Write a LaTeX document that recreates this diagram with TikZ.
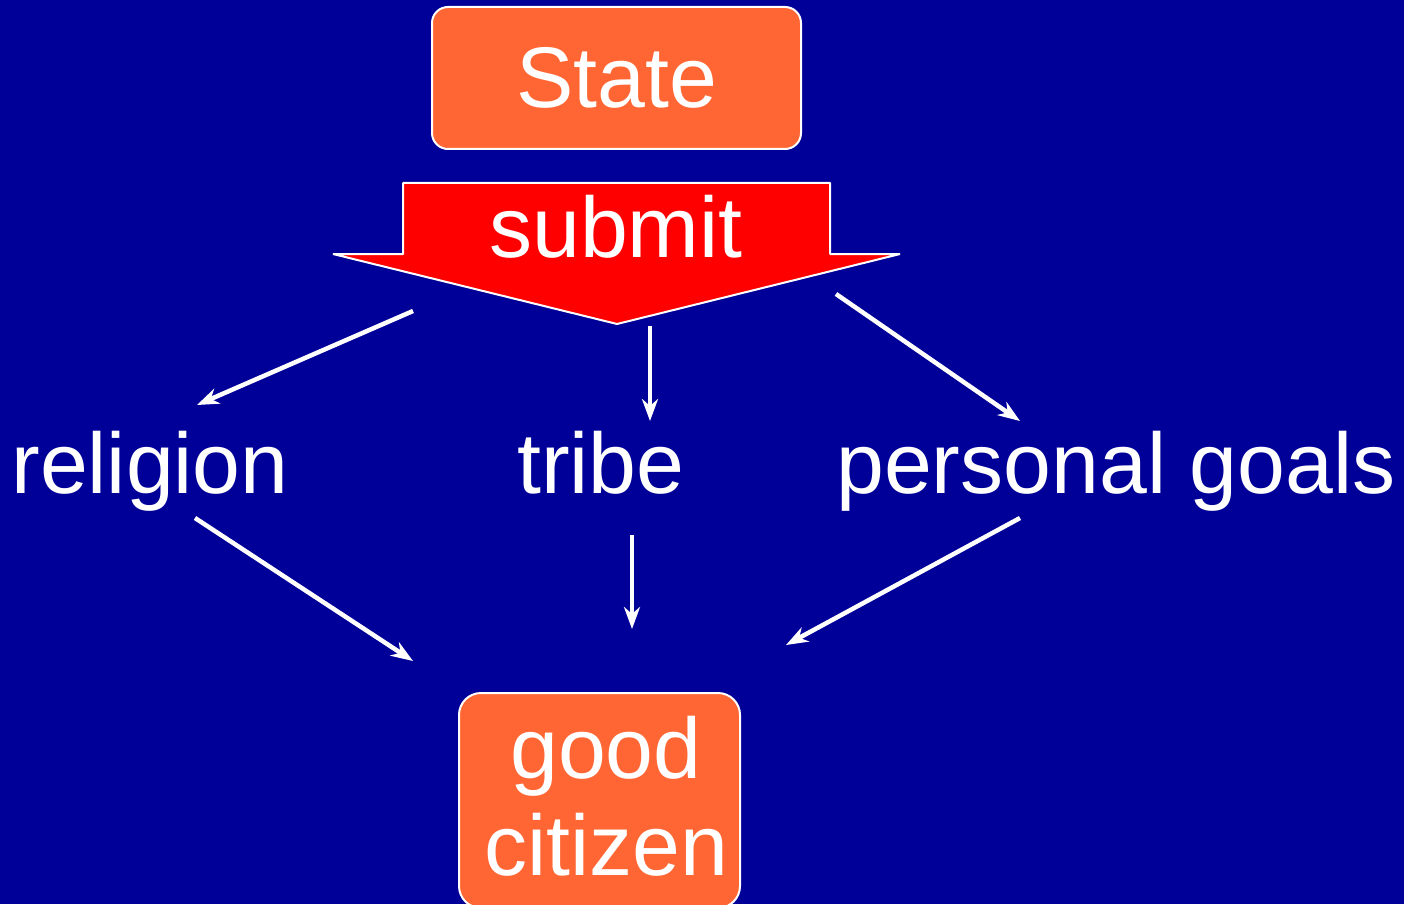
\documentclass[tikz,border=0pt]{standalone}
\usepackage{fontspec}
\setmainfont{Liberation Sans}
\usetikzlibrary{arrows.meta}
\definecolor{bg}{HTML}{000099}
\definecolor{boxorange}{HTML}{FF6633}
\definecolor{submitred}{HTML}{FF0000}
\begin{document}
\begin{tikzpicture}[x=1pt,y=-1pt,
  lbl/.style={text=white,inner sep=0pt,anchor=base,font=\fontsize{86}{97}\selectfont},
  orangebox/.style={fill=boxorange,draw=white,line width=2pt,rounded corners=16pt},
  conn/.style={draw=white,line width=4.5pt,-{Stealth[length=22pt,width=16pt,inset=7pt]}}]
\useasboundingbox (0,0) rectangle (1404,904);
\fill[bg] (0,0) rectangle (1404,904);
% State box
\draw[orangebox] (432,7) rectangle (801,149);
\node[lbl] (state) at (617,108) {State};
% submit arrow
\draw[fill=submitred,draw=white,line width=2pt,line join=bevel]
  (403,183) -- (830,183) -- (830,254) -- (900,254) -- (617,324) -- (333,254) -- (403,254) -- cycle;
\node[lbl] (submit) at (616,257) {submit};
% labels
\node[lbl] (religion) at (150,493) {religion};
\node[lbl] (tribe) at (601,493) {tribe};
\node[lbl] (goals) at (1116,493) {personal goals};
% good citizen box (cut at the bottom)
\begin{scope}
\clip (0,0) rectangle (1404,904);
\draw[orangebox,rounded corners=22pt] (459,693) rectangle (740,908);
\end{scope}
\node[lbl] (good) at (606,778) {good};
\node[lbl] (citizen) at (606,875) {citizen};
% connector end points
\coordinate (a1) at (413,311); \coordinate (b1) at (197,405);
\coordinate (a2) at (650,326); \coordinate (b2) at (650,421);
\coordinate (a3) at (836,294); \coordinate (b3) at (1020,421);
\coordinate (a4) at (195,518); \coordinate (b4) at (413,661);
\coordinate (a5) at (632,535); \coordinate (b5) at (632,629);
\coordinate (a6) at (1020,518); \coordinate (b6) at (786,645);
\draw[conn] (a1) -- (b1);
\draw[conn] (a2) -- (b2);
\draw[conn] (a3) -- (b3);
\draw[conn] (a4) -- (b4);
\draw[conn] (a5) -- (b5);
\draw[conn] (a6) -- (b6);
\end{tikzpicture}
\end{document}
